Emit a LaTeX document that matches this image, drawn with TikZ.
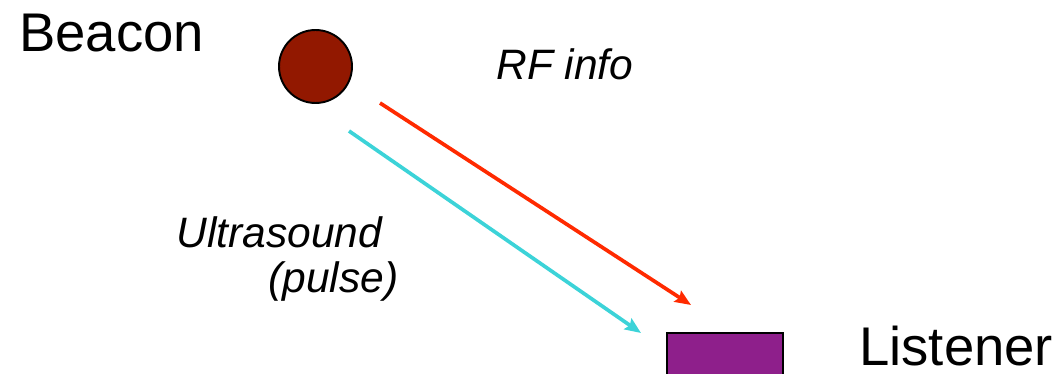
\documentclass[tikz,border=0pt]{standalone}
\usepackage{fontspec}
\setmainfont{Liberation Sans}
\usepackage{tikz}
\usetikzlibrary{positioning,arrows.meta}
\definecolor{BeaconRed}{HTML}{921800}
\definecolor{ListenerPurple}{HTML}{8E1F8B}
\definecolor{RFRed}{HTML}{FF2A00}
\definecolor{USCyan}{HTML}{3CD3D8}

\begin{document}
\begin{tikzpicture}[x=0.02cm,y=-0.02cm,
    >={Stealth[length=0.32cm,width=0.26cm,inset=0.05cm]}]
  \tikzstyle{bigname}=[anchor=base west,inner sep=0pt,text depth=0pt,
    font=\fontsize{31}{36}\selectfont]
  \tikzstyle{sig}=[anchor=base west,inner sep=0pt,
    font=\fontsize{24.2}{28}\selectfont\itshape]
  \tikzstyle{ray}=[->,line width=2.1pt]
  \useasboundingbox (0,0) rectangle (1064,374);
  % devices
  \node[circle,draw=black,line width=1.1pt,fill=BeaconRed,
    minimum size=1.46cm,inner sep=0pt] (beacon) at (315.5,66.5) {};
  \node[draw=black,line width=1.2pt,fill=ListenerPurple,anchor=north west,
    minimum width=2.32cm,minimum height=1.2cm,inner sep=0pt] (listener) at (666,332) {};
  % labels
  \node[bigname] (beaconlabel) at (19,52) {Beacon};
  \node[bigname] (listenerlabel) at (859,366) {Listener};
  \node[sig] (rflabel) at (496,80) {RF info};
  \node[sig] (uslabel) at (176,248) {Ultrasound};
  \node[sig] (pulselabel) at (268,293) {(pulse)};
  % signals
  \coordinate (rfstart) at (380,103);
  \coordinate (rfend) at (691,305);
  \coordinate (usstart) at (349,131);
  \coordinate (usend) at (641,333);
  \draw[ray,color=RFRed] (rfstart)--(rfend);
  \draw[ray,color=USCyan] (usstart)--(usend);
\end{tikzpicture}
\end{document}
